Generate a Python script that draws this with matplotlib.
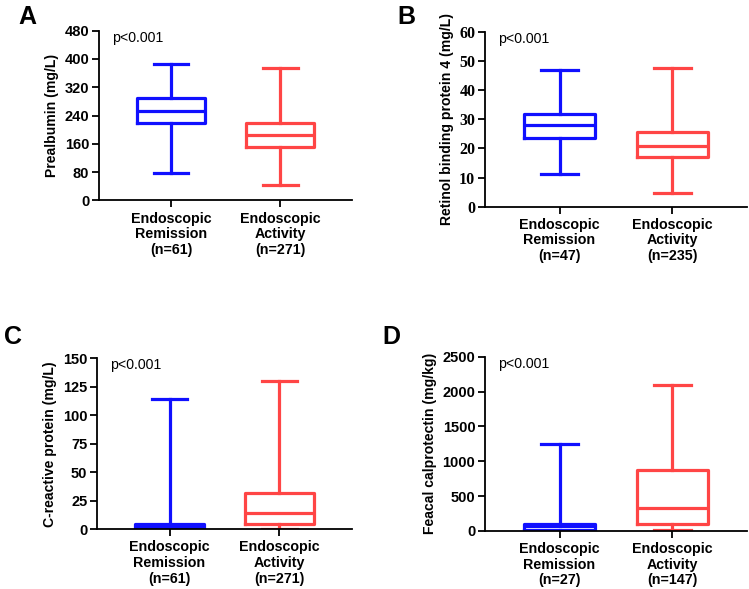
import matplotlib
matplotlib.use("Agg")
import matplotlib.pyplot as plt
from matplotlib.ticker import FixedLocator

plt.rcParams['font.family'] = ['Liberation Sans', 'DejaVu Sans']

# box statistics: [whislo, q1, med, q3, whishi]
groups = ['Endoscopic\nRemission', 'Endoscopic\nActivity']

prealb_n = [61, 271]
prealb_remission = [78, 218, 254, 289, 386]
prealb_activity = [44, 151, 184, 220, 375]

rbp4_n = [47, 235]
rbp4_remission = [11.2, 23.4, 28.0, 31.8, 46.8]
rbp4_activity = [4.6, 16.9, 20.8, 25.5, 47.7]

crp_n = [61, 271]
crp_remission = [0.2, 0.6, 3.0, 5.0, 114]
crp_activity = [0.4, 4.4, 14.0, 31.6, 130.5]

fc_n = [27, 147]
fc_remission = [5, 14, 72, 105, 1243]
fc_activity = [15, 105, 325, 880, 2100]

BLUE = '#1010ff'
RED = '#ff4545'


def to_stats(vals):
    lo, q1, med, q3, hi = vals
    return dict(whislo=lo, q1=q1, med=med, q3=q3, whishi=hi, fliers=[])


def draw_panel(ax, rem, act, n, ylabel, yticks, serif_ticks=False):
    colors = [BLUE, RED]
    for i, vals in enumerate([rem, act]):
        c = colors[i]
        ax.bxp([to_stats(vals)], positions=[i + 1], widths=0.63, capwidths=0.32,
               showfliers=False, patch_artist=False,
               boxprops=dict(color=c, lw=2.3),
               medianprops=dict(color=c, lw=2.3),
               whiskerprops=dict(color=c, lw=2.3),
               capprops=dict(color=c, lw=2.3))
    ax.set_xlim(0.34, 2.66)
    ax.set_ylim(yticks[0], yticks[-1])
    ax.yaxis.set_major_locator(FixedLocator(yticks))
    ax.set_xticks([1, 2])
    ax.set_xticklabels([f'{g}\n(n={k})' for g, k in zip(groups, n)],
                       fontsize=10.3, fontweight='bold', linespacing=1.15)
    tick_font = 'Liberation Serif' if serif_ticks else 'Liberation Sans'
    ax.set_yticklabels([str(t) for t in yticks], fontsize=11.5 if serif_ticks else 10.5,
                       fontweight='bold', family=tick_font)
    ax.set_ylabel(ylabel, fontsize=10.1, fontweight='bold', labelpad=4)
    for s in ['top', 'right']:
        ax.spines[s].set_visible(False)
    for s in ['left', 'bottom']:
        ax.spines[s].set_linewidth(1.3)
    ax.tick_params(axis='both', direction='out', length=5, width=1.3, pad=2)
    ax.tick_params(axis='x', pad=3)
    ax.text(0.05, 1.0, 'p<0.001', transform=ax.transAxes, ha='left', va='top',
            fontsize=10.2)


fig = plt.figure(figsize=(7.49, 5.89), dpi=100)
axA = fig.add_axes([0.1322, 0.6596, 0.3378, 0.2886])
axB = fig.add_axes([0.6475, 0.6491, 0.3498, 0.2971])
axC = fig.add_axes([0.1295, 0.1014, 0.3405, 0.2903])
axD = fig.add_axes([0.6475, 0.0985, 0.3498, 0.2959])

draw_panel(axA, prealb_remission, prealb_activity, prealb_n, 'Prealbumin (mg/L)',
           [0, 80, 160, 240, 320, 400, 480])
draw_panel(axB, rbp4_remission, rbp4_activity, rbp4_n, 'Retinol binding protein 4 (mg/L)',
           [0, 10, 20, 30, 40, 50, 60], serif_ticks=True)
draw_panel(axC, crp_remission, crp_activity, crp_n, 'C-reactive protein (mg/L)',
           [0, 25, 50, 75, 100, 125, 150])
draw_panel(axD, fc_remission, fc_activity, fc_n, 'Feacal calprotectin (mg/kg)',
           [0, 500, 1000, 1500, 2000, 2500])

# panel letters
for letter, (x, y) in zip('ABCD', [(18, 5), (397, 5), (4, 325), (382, 325)]):
    fig.text(x / 749, 1 - y / 589, letter, ha='left', va='top',
             fontsize=18, fontweight='bold')

fig.savefig('out.png', dpi=100)
